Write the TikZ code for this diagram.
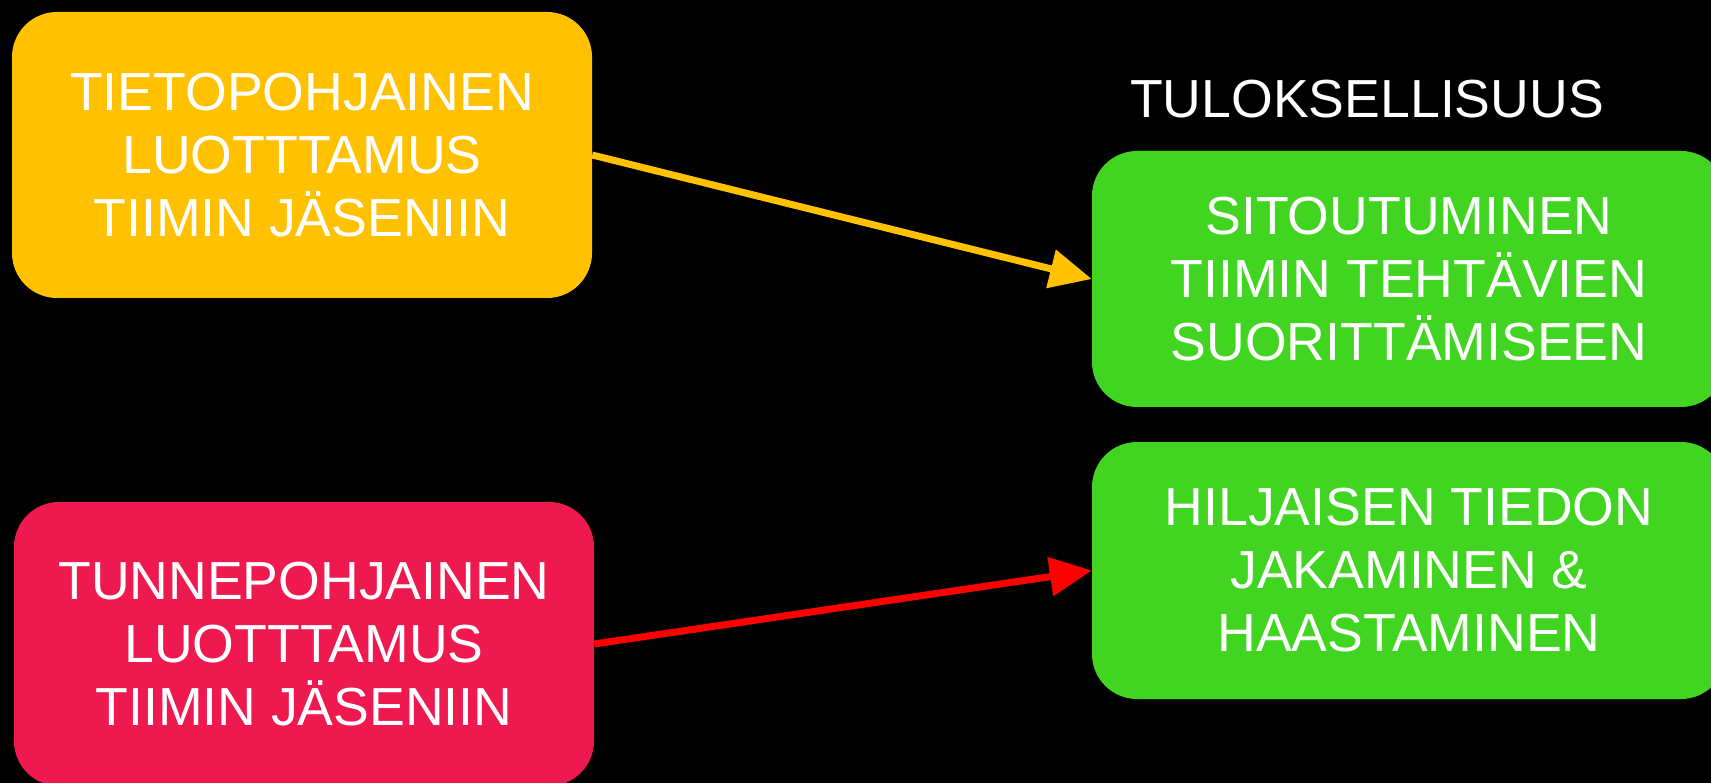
\documentclass[tikz,border=0pt]{standalone}
\usepackage{fontspec}
\setmainfont{Liberation Sans}
\usetikzlibrary{arrows.meta}
\definecolor{ylw}{HTML}{FFC100}
\definecolor{rbox}{HTML}{EE1A4F}
\definecolor{grn}{HTML}{41D522}
\definecolor{rarr}{HTML}{FF0000}
\tikzset{
  box/.style={rounded corners=45pt, align=center, text=white, inner sep=0pt,
    font=\fontsize{53.6}{63}\selectfont},
  lbl/.style={text=white, inner sep=0pt, font=\fontsize{53.6}{63}\selectfont},
  conn/.style={line width=7pt, -{Triangle[length=42pt, width=38pt]}}
}
\begin{document}
\begin{tikzpicture}[x=1pt, y=-1pt]
\fill[black] (0,0) rectangle (1711,783);
\useasboundingbox (0,0) rectangle (1711,783);
\begin{scope}
\clip (0,0) rectangle (1711,783);
\node[box, fill=ylw, minimum width=580pt, minimum height=286pt] (tieto) at (302,155)
  {TIETOPOHJAINEN\\LUOTTTAMUS\\TIIMIN JÄSENIIN};
\node[box, fill=rbox, minimum width=580pt, minimum height=284pt] (tunne) at (304,644)
  {TUNNEPOHJAINEN\\LUOTTTAMUS\\TIIMIN JÄSENIIN};
\node[box, fill=grn, minimum width=634pt, minimum height=256pt] (sitou) at (1409,279)
  {SITOUTUMINEN\\TIIMIN TEHTÄVIEN\\SUORITTÄMISEEN};
\node[box, fill=grn, minimum width=634pt, minimum height=257pt] (hilj) at (1409,570.5)
  {HILJAISEN TIEDON\\JAKAMINEN \&\\HAASTAMINEN};
\node[lbl, anchor=base] (tulos) at (1367,118) {TULOKSELLISUUS};
\draw[conn, draw=ylw, fill=ylw] (tieto.east) -- (sitou.west);
\draw[conn, draw=rarr, fill=rarr] (tunne.east) -- (hilj.west);
\end{scope}
\end{tikzpicture}
\end{document}
